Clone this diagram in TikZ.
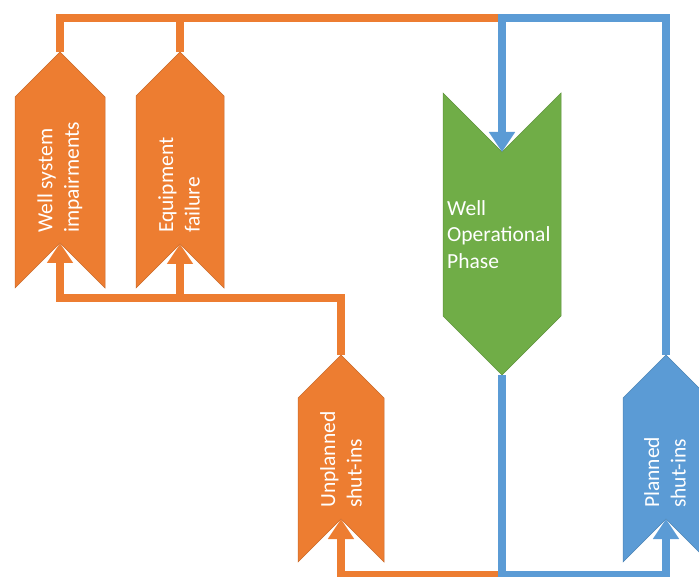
\documentclass[tikz,border=0pt]{standalone}
\usepackage{fontspec}
\setmainfont{Carlito}
\usetikzlibrary{arrows.meta}
\definecolor{ofOrange}{HTML}{ED7D31}
\definecolor{ofBlue}{HTML}{5B9BD5}
\definecolor{ofGreen}{HTML}{70AD47}

\tikzset{
  flow/.style={line width=8pt},
  head/.style={-{Triangle[length=20pt,width=25pt]}},
  lbl/.style={text=white, font=\fontsize{21.5}{26.5}\selectfont, align=left, inner sep=0pt},
  vlbl/.style={lbl, rotate=90, anchor=west},
}

% upward chevron: name, x, y of tip, y of bottom corners, half width, colour
\newcommand\upchev[6]{%
  \fill[#6, draw=#6!85!black, line width=0.5pt]
    (#2,#3) -- (#2+#5,#3+#5) -- (#2+#5,#4) -- (#2,#4-#5)
    -- (#2-#5,#4) -- (#2-#5,#3+#5) -- cycle;
  \coordinate (#1-tip) at (#2,#3);
  \coordinate (#1-notch) at (#2,#4-#5);
}

\begin{document}
\begin{tikzpicture}[x=1pt,y=-1pt]
\useasboundingbox (0,0) rectangle (699,577);

% chevrons
\upchev{ws}{60}{52}{288}{45}{ofOrange}
\upchev{ef}{180}{52}{288}{44}{ofOrange}
\upchev{us}{341}{355}{562}{43}{ofOrange}
\upchev{ps}{666}{355}{562}{43}{ofBlue}

% downward chevron of the operational phase
\fill[ofGreen, draw=ofGreen!85!black, line width=0.5pt]
  (443,93) -- (502,152) -- (561,93) -- (561,316) -- (502,375) -- (443,316) -- cycle;
\coordinate (wop-notch) at (502,152);
\coordinate (wop-tip) at (502,375);

% junction points of the connectors
\coordinate (topjoin) at (502,18);
\coordinate (midjoin) at (60,298);
\coordinate (botjoin) at (502,575);

% connectors
\draw[flow, ofOrange] (ws-tip) |- (topjoin);
\draw[flow, ofOrange] (ef-tip) -- (ef-tip |- topjoin);
\draw[flow, ofBlue, head] (ps-tip) |- (topjoin) -- (wop-notch);

\draw[flow, ofOrange, head] (us-tip) |- (midjoin) -- (ws-notch);
\draw[flow, ofOrange, head] (ef-notch |- midjoin) -- (ef-notch);

\draw[flow, ofOrange, head] (wop-tip) -- (botjoin) -| (us-notch);
\draw[flow, ofBlue, head] (wop-tip) -- (botjoin) -| (ps-notch);

% labels
\node[vlbl] (ws) at (60,233) {Well system\\impairments};
\node[vlbl] (ef) at (179,233) {Equipment\\failure};
\node[vlbl] (us) at (341,508) {Unplanned\\shut-ins};
\node[vlbl] (ps) at (665,508) {Planned\\shut-ins};
\node[lbl, anchor=north west] (wop) at (447,200) {Well\\Operational\\Phase};
\end{tikzpicture}
\end{document}
